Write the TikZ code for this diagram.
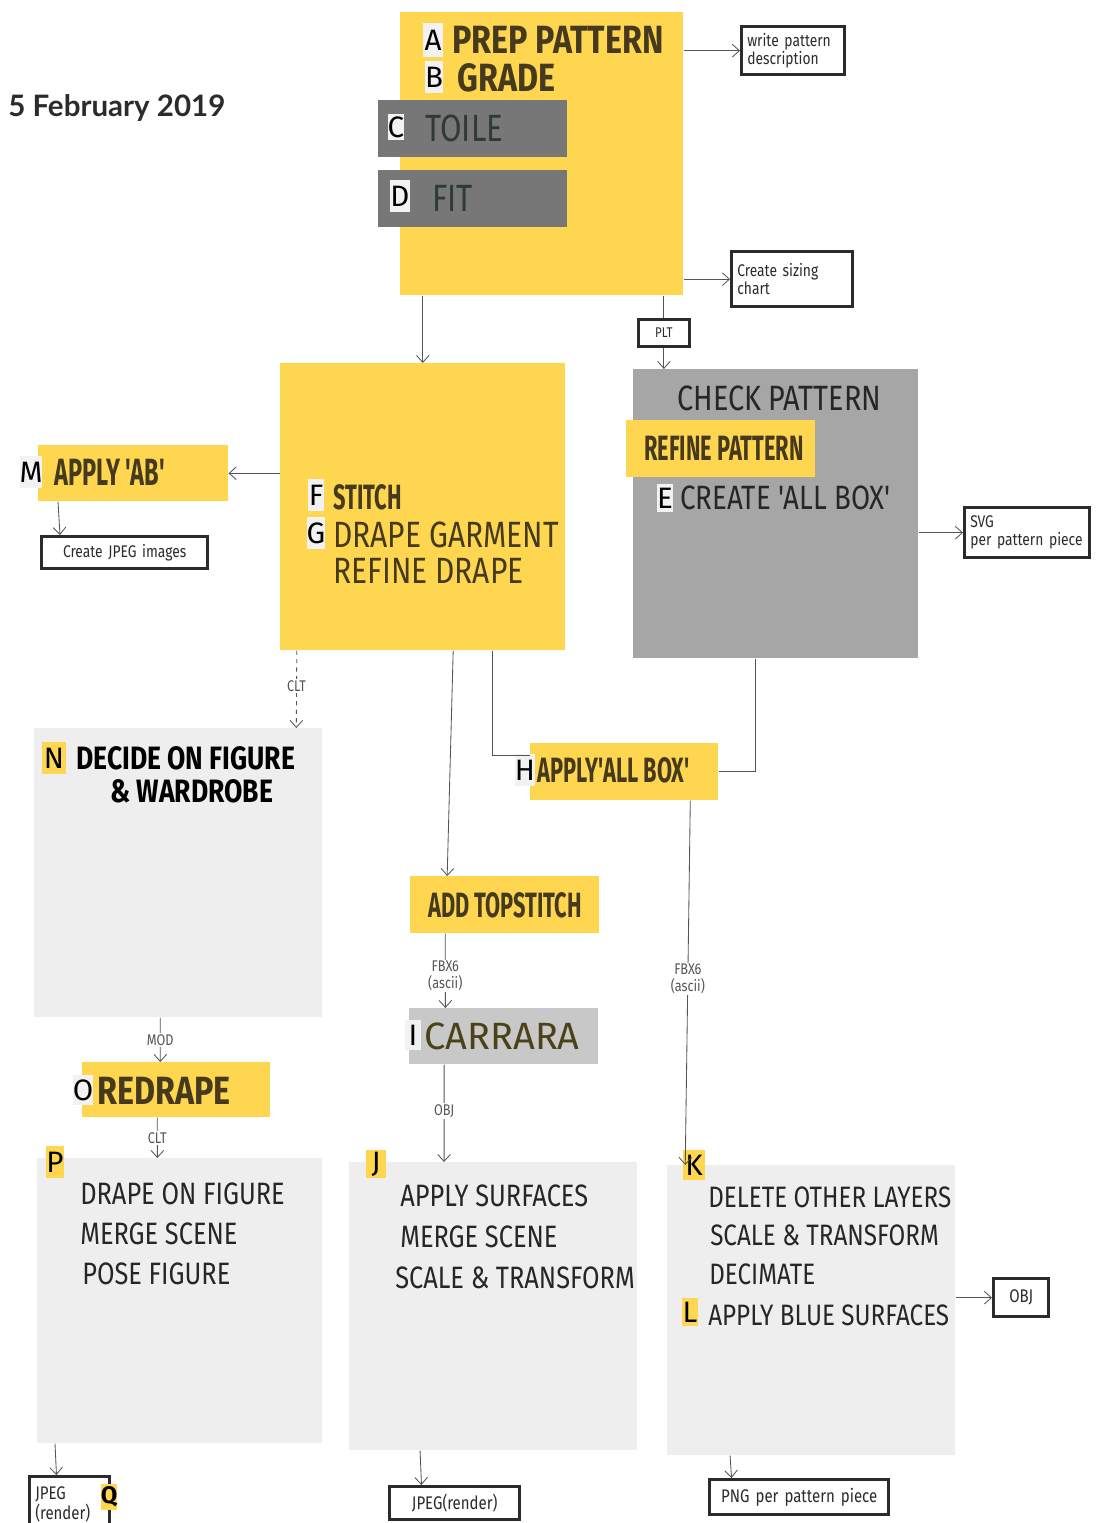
\documentclass[tikz,border=0pt]{standalone}
\usepackage{fontspec}
\setmainfont{Fira Sans}
\newfontfamily\hand[FakeStretch=0.82]{Fira Sans}
\newfontfamily\handnarrow[FakeStretch=0.62]{Fira Sans}
\newfontfamily\handwide{Fira Sans}
\newfontfamily\datefont{Lato}
\usetikzlibrary{arrows.meta}

\definecolor{stickyyellow}{HTML}{FFD650}
\definecolor{toilegrey}{HTML}{777777}
\definecolor{checkgrey}{HTML}{A6A6A6}
\definecolor{carraragrey}{HTML}{C8C8C8}
\definecolor{paperlight}{HTML}{EEEEEE}
\definecolor{tagfill}{HTML}{F2F2F2}
\definecolor{marker}{HTML}{45391E}
\definecolor{pencil}{HTML}{262626}
\definecolor{ink}{HTML}{2B2B2B}
\definecolor{linegrey}{HTML}{555555}
\definecolor{toileink}{HTML}{2E3B35}
\definecolor{carraraink}{HTML}{4A4318}

\newcommand\fsz[1]{\fontsize{#1}{#1}\selectfont}
\newcommand\fszl[2]{\fontsize{#1}{#2}\selectfont}

\tikzset{
  wh/.style 2 args={minimum width=#1*0.025cm, minimum height=#2*0.025cm},
  sheet/.style={inner sep=0pt, anchor=north west},
  sticky/.style={sheet, fill=stickyyellow},
  toilebox/.style={sheet, fill=toilegrey},
  greysheet/.style={sheet, fill=checkgrey},
  paper/.style={sheet, fill=paperlight},
  carrarabox/.style={sheet, fill=carraragrey},
  filebox/.style 2 args={sheet, draw=ink, line width=2.4pt, fill=white,
    align=left, inner sep=4pt, text width=#1*0.025cm-8pt,
    minimum height=#2*0.025cm, font=\hand\fszl{12}{13}, text=ink},
  tag/.style={fill=tagfill, inner sep=0pt, font=\handwide\fsz{21}, text=black},
  ytag/.style={tag, fill=stickyyellow},
  ytext/.style={anchor=west, inner sep=0pt, font=\hand\bfseries\fsz{26}, text=marker},
  ntext/.style={anchor=west, inner sep=0pt, font=\handnarrow\bfseries\fsz{25}, text=marker},
  gtext/.style={anchor=west, inner sep=0pt, font=\hand\fsz{22}, text=pencil},
  flow/.style={draw=linegrey, line width=0.6pt, -{Straight Barb[length=5pt,width=9pt]}},
  link/.style={draw=linegrey, line width=0.6pt},
  fmt/.style={font=\hand\fszl{11}{12}, text=linegrey, fill=white, inner sep=1pt, align=center},
}

\begin{document}
\begin{tikzpicture}[x=0.025cm, y=-0.025cm]
\useasboundingbox[fill=white] (0,0) rectangle (1105,1523);

\node[anchor=west, inner sep=0pt, font=\datefont\bfseries\fsz{21}, text=ink] (date) at (8,108) {5 February 2019};

% pattern prep sheet with toile and fit strips
\node[sticky, wh={283}{283}] (prep) at (400,12) {};
\node[tag, minimum width=0.5cm, minimum height=0.85cm] (tagA) at (433,40) {A};
\node[ytext, font=\hand\bfseries\fsz{28}] (tPrep) at (452,40) {PREP PATTERN};
\node[tag, minimum width=0.45cm, minimum height=0.8cm] (tagB) at (434,77) {B};
\node[ytext, font=\hand\bfseries\fsz{28}] (tGrade) at (457,78) {GRADE};
\node[toilebox, wh={189}{57}] (toile) at (378,100) {};
\node[tag, minimum width=0.42cm, minimum height=0.65cm] (tagC) at (396,127) {C};
\node[gtext, font=\hand\fsz{27}, text=toileink] (tToile) at (425,128) {TOILE};
\node[toilebox, wh={189}{57}] (fit) at (378,170) {};
\node[tag, minimum width=0.5cm, minimum height=0.8cm] (tagD) at (400,196) {D};
\node[gtext, font=\hand\fsz{27}, text=toileink] (tFit) at (432,198) {FIT};

\node[filebox={103}{48}] (wpd) at (740,25) {write pattern\\description};
\node[filebox={121}{55}] (sizing) at (730,250) {Create sizing\\chart};
\node[filebox={51}{27}, font=\hand\fsz{10}, align=center, inner sep=2pt, text width=51*0.025cm-4pt, line width=2pt] (plt) at (637,318) {PLT};

% stitch and drape sheet
\node[sticky, wh={285}{287}] (stitch) at (280,363) {};
\node[tag, minimum width=0.4cm, minimum height=0.78cm] (tagF) at (316,495) {F};
\node[ntext] (tStitch) at (333,497) {STITCH};
\node[tag, minimum width=0.4cm, minimum height=0.78cm] (tagG) at (316,533) {G};
\node[ytext, font=\hand\fsz{26}] (tDrape) at (333,535) {DRAPE GARMENT};
\node[ytext, font=\hand\fsz{26}] (tRefine) at (333,571) {REFINE DRAPE};

\node[sticky, wh={190}{56}] (applyab) at (38,445) {};
\node[tag, minimum width=0.45cm, minimum height=0.8cm] (tagM) at (31,472) {M};
\node[ntext, font=\handnarrow\bfseries\fsz{27}] (tApplyab) at (54,472) {APPLY 'AB'};
\node[filebox={166}{32}, align=center, inner sep=2pt, text width=166*0.025cm-4pt] (jpegimg) at (40,535) {Create JPEG images};

% pattern check sheet
\node[greysheet, wh={285}{289}] (check) at (633,369) {};
\node[gtext, font=\hand\fsz{25}] (tCheck) at (677,398) {CHECK PATTERN};
\node[sticky, wh={189}{57}] (refine) at (626,420) {};
\node[ntext, font=\handnarrow\bfseries\fsz{25}] (tRefpat) at (644,448) {REFINE PATTERN};
\node[tag, minimum width=0.42cm, minimum height=0.68cm] (tagE) at (665,498) {E};
\node[gtext, font=\hand\fsz{24}] (tCreate) at (680,498) {CREATE 'ALL BOX'};
\node[filebox={125}{50}] (svg) at (963,506) {SVG\\per pattern piece};

\node[sticky, wh={188}{57}] (allbox) at (530,743) {};
\node[tag, minimum width=0.4cm, minimum height=0.8cm] (tagH) at (525,770) {H};
\node[ntext] (tAllbox) at (537,770) {APPLY'ALL BOX'};

% figure side
\node[paper, wh={288}{289}] (decide) at (34,728) {};
\node[ytag, minimum width=0.6cm, minimum height=0.82cm] (tagN) at (54,758) {N};
\node[ytext, font=\hand\bfseries\fsz{23}, text=black] (tDecide) at (76,758) {DECIDE ON FIGURE};
\node[ytext, font=\hand\bfseries\fsz{23}, text=black] (tWardrobe) at (110,791) {\& WARDROBE};

\node[sticky, wh={188}{55}] (redrape) at (82,1062) {};
\node[tag, minimum width=0.38cm, minimum height=0.75cm] (tagO) at (83,1090) {O};
\node[ytext, font=\hand\bfseries\fsz{28}] (tRedrape) at (97,1091) {REDRAPE};

\node[paper, wh={285}{285}] (pfig) at (37,1158) {};
\node[ytag, minimum width=0.45cm, minimum height=0.78cm] (tagP) at (55,1162) {P};
\node[gtext] (tOnfig) at (80,1194) {DRAPE ON FIGURE};
\node[gtext] (tMergeP) at (80,1234) {MERGE SCENE};
\node[gtext] (tPose) at (82,1274) {POSE FIGURE};

\node[filebox={80}{55}, font=\hand\fszl{13}{14}] (jpegq) at (28,1475) {JPEG\\(render)};
\node[ytag, font=\handwide\bfseries\fsz{17}, minimum width=0.42cm, minimum height=0.65cm] (tagQ) at (109,1497) {Q};

% topstitch and carrara column
\node[sticky, wh={189}{57}] (topstitch) at (410,876) {};
\node[ntext] (tTopstitch) at (428,905) {ADD TOPSTITCH};
\node[carrarabox, wh={189}{56}] (carrara) at (409,1008) {};
\node[tag, minimum width=0.4cm, minimum height=0.75cm] (tagI) at (413,1035) {I};
\node[gtext, font=\handwide\fsz{27}, text=carraraink] (tCarrara) at (424,1036) {CARRARA};

\node[paper, wh={288}{288}] (jsheet) at (349,1162) {};
\node[ytag, minimum width=0.5cm, minimum height=0.7cm] (tagJ) at (376,1164) {J};
\node[gtext] (tSurf) at (400,1196) {APPLY SURFACES};
\node[gtext] (tMergeJ) at (400,1237) {MERGE SCENE};
\node[gtext] (tScaleJ) at (395,1278) {SCALE \& TRANSFORM};
\node[filebox={130}{33}, align=center, inner sep=2pt, text width=130*0.025cm-4pt, font=\hand\fsz{13}] (jpegr) at (388,1485) {JPEG(render)};

% export column
\node[paper, wh={288}{290}] (ksheet) at (667,1165) {};
\node[ytag, minimum width=0.55cm, minimum height=0.75cm] (tagK) at (694,1165) {K};
\node[gtext, font=\hand\fsz{21}] (tDelete) at (708,1197) {DELETE OTHER LAYERS};
\node[gtext, font=\hand\fsz{21}] (tScaleK) at (710,1235) {SCALE \& TRANSFORM};
\node[gtext, font=\hand\fsz{21}] (tDecimate) at (709,1274) {DECIMATE};
\node[ytag, minimum width=0.38cm, minimum height=0.68cm] (tagL) at (690,1312) {L};
\node[gtext, font=\hand\fsz{21}] (tBlue) at (708,1315) {APPLY BLUE SURFACES};
\node[filebox={55}{38}, align=center, inner sep=2pt, text width=55*0.025cm-4pt, font=\hand\fsz{13}] (objbox) at (992,1277) {OBJ};
\node[filebox={179}{35}, align=center, inner sep=2pt, text width=179*0.025cm-4pt, font=\hand\fsz{13}] (png) at (708,1478) {PNG per pattern piece};

% connectors
\draw[flow] (prep.east |- wpd.west) -- (wpd.west);
\draw[flow] (prep.east |- sizing.west) -- (sizing.west);
\draw[flow] (prep.south -| stitch.north) -- (stitch.north);
\draw[link] (prep.south -| plt.north) -- (plt.north);
\draw[flow] (plt.south) -- (check.north -| plt.south);
\draw[flow] (stitch.west |- applyab.east) -- (applyab.east);
\draw[flow] ([xshift=0.5cm]applyab.south west) -- ([xshift=0.5cm]jpegimg.north west);
\draw[flow] (check.east |- svg.west) -- (svg.west);
\draw[link] ([xshift=-0.5cm]check.south) |- (allbox.east);
\draw[link] ([xshift=1.74cm]stitch.south) |- ([yshift=0.4cm]allbox.west);
\draw[flow] ([xshift=0.76cm]stitch.south) -- ([xshift=-1.44cm]topstitch.north);
\draw[flow, dashed] ([xshift=-3.15cm]stitch.south) -- node[fmt, pos=0.46] {CLT} ([xshift=2.95cm]decide.north);
\draw[flow] ([xshift=-0.45cm]decide.south) -- node[fmt] {MOD} ([xshift=-0.4cm]redrape.north);
\draw[flow] ([xshift=-0.475cm]redrape.south) -- node[fmt] {CLT} ([xshift=-0.56cm]pfig.north);
\draw[flow] ([xshift=0.45cm]pfig.south west) -- ([xshift=-0.33cm]jpegq.north);
\draw[flow] ([xshift=-1.49cm]topstitch.south) -- node[fmt, pos=0.57] {FBX6\\(ascii)} ([xshift=-1.46cm]carrara.north);
\draw[flow] ([xshift=-1.49cm]carrara.south) -- node[fmt, pos=0.48] {OBJ} ([xshift=-1.23cm]jsheet.north);
\draw[flow] ([xshift=-1.83cm]jsheet.south) -- ([xshift=-0.83cm]jpegr.north);
\draw[flow] ([xshift=1.65cm]allbox.south) -- node[fmt, pos=0.49] {FBX6\\(ascii)} ([xshift=-3.15cm]ksheet.north);
\draw[flow] (ksheet.east |- objbox.west) -- (objbox.west);
\draw[flow] ([xshift=-2.03cm]ksheet.south) -- ([xshift=-1.69cm]png.north);
\end{tikzpicture}
\end{document}
